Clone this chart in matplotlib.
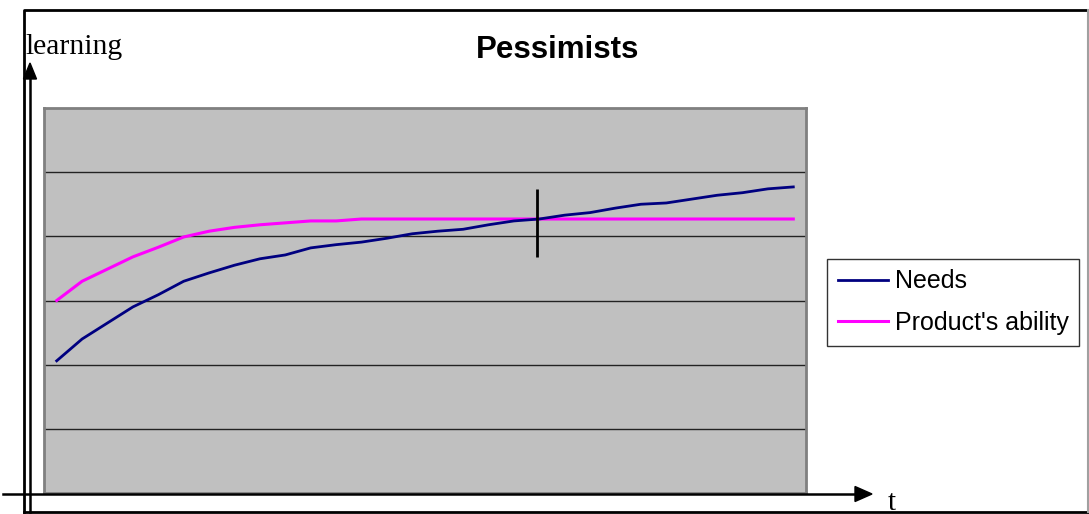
import numpy as np
import matplotlib.pyplot as plt
from matplotlib.patches import Polygon

# Series values per period (30 periods)
periods = np.arange(30)
needs = [2.06, 2.40, 2.65, 2.90, 3.09, 3.30, 3.43, 3.55, 3.65, 3.71,
         3.82, 3.87, 3.91, 3.97, 4.04, 4.08, 4.11, 4.18, 4.24, 4.27,
         4.33, 4.37, 4.44, 4.50, 4.52, 4.58, 4.64, 4.68, 4.74, 4.77]
ability = [3.00, 3.30, 3.49, 3.68, 3.83, 3.99, 4.08, 4.14, 4.18, 4.21,
           4.24, 4.24, 4.27, 4.27, 4.27, 4.27, 4.27, 4.27, 4.27, 4.27,
           4.27, 4.27, 4.27, 4.27, 4.27, 4.27, 4.27, 4.27, 4.27, 4.27]
series_names = ["Needs", "Product's ability"]
marker_x = 18.9
marker_span = (3.68, 4.74)

W, H = 1089, 514
fig = plt.figure(figsize=(W / 100, H / 100), dpi=100)
fig.patch.set_facecolor('white')

# plot area
ax = fig.add_axes([44 / W, 1 - 493 / H, (806 - 44) / W, (493 - 108) / H])
ax.set_facecolor('#c0c0c0')
ax.set_xlim(-0.5, 29.5)
ax.set_ylim(0, 6)
for y in range(1, 6):
    ax.axhline(y, color='#222222', lw=1.0, zorder=1)
ax.plot(periods, needs, color='#000080', lw=2.0, zorder=3, label=series_names[0])
ax.plot(periods, ability, color='#ff00ff', lw=2.2, zorder=2, label=series_names[1])
ax.vlines(marker_x, *marker_span, color='black', lw=2.0, zorder=4)
ax.set_xticks([])
ax.set_yticks([])
for s in ax.spines.values():
    s.set_color('#808080')
    s.set_linewidth(2.0)

leg = fig.legend(loc='upper left', bbox_to_anchor=(827 / W, 1 - 259 / H),
                 frameon=True, fancybox=False, edgecolor='black',
                 prop={'family': 'Liberation Sans', 'size': 18},
                 handlelength=2.0, handletextpad=0.3, labelspacing=0.7,
                 borderpad=0.42, borderaxespad=0)
leg.get_frame().set_linewidth(1.0)

# overlay in pixel coordinates for frame, arrows and labels
ov = fig.add_axes([0, 0, 1, 1], facecolor='none')
ov.set_xlim(0, W)
ov.set_ylim(H, 0)
ov.axis('off')

# outer chart frame
ov.plot([24, 24, 1088], [512, 10, 10], color='black', lw=2.0)
ov.plot([24, 1088], [512, 512], color='black', lw=2.0)
ov.plot([1088, 1088], [10, 512], color='#a0a0a0', lw=1.5)

# vertical axis arrow
ov.plot([30, 30], [512, 76], color='black', lw=1.8)
ov.add_patch(Polygon([[30, 63], [23.5, 79], [36.5, 79]], closed=True, color='black'))
# horizontal axis arrow
ov.plot([3, 858], [494, 494], color='black', lw=1.8)
ov.add_patch(Polygon([[872, 494], [855, 486.5], [855, 501.5]], closed=True, color='black'))

ov.text(25, 54, 'learning', family='Liberation Serif', fontsize=21.3, va='baseline', ha='left')
ov.text(888, 510, 't', family='Liberation Serif', fontsize=21, va='baseline', ha='left')
ov.text(558, 50, 'Pessimists', family='Liberation Sans', fontsize=22.5, fontweight='bold',
        ha='center', va='center')

fig.savefig('out.png', dpi=100)
